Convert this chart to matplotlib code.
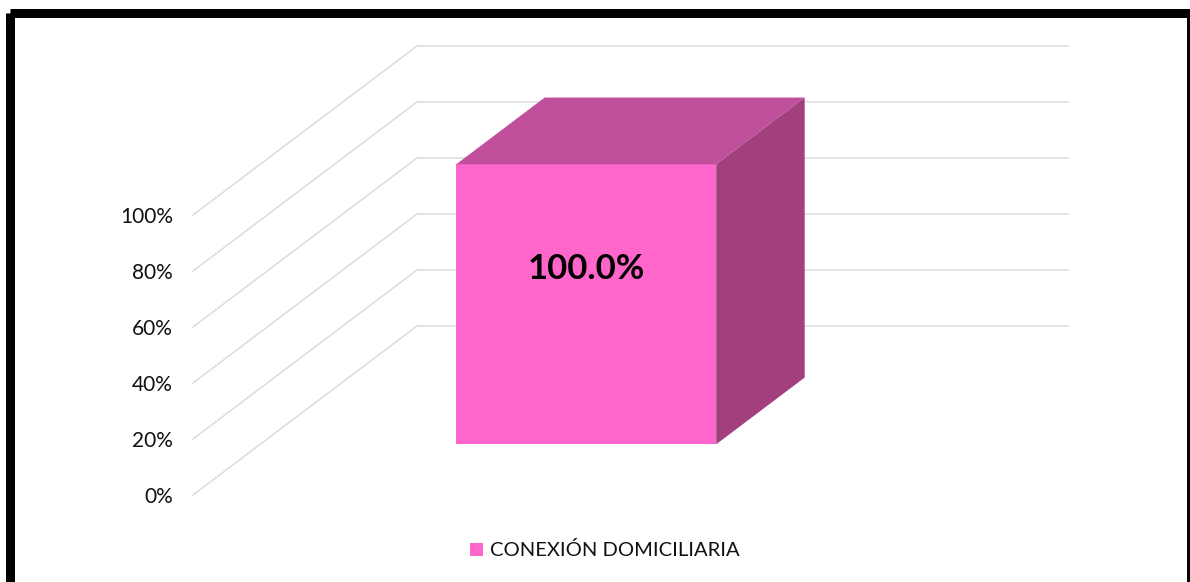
import matplotlib
matplotlib.use("Agg")
import matplotlib.pyplot as plt
from matplotlib.patches import Polygon, Rectangle

# ---- data ----
categories = ["CONEXIÓN DOMICILIARIA"]
values = [100.0]
value_labels = ["100.0%"]
ticks = [0, 20, 40, 60, 80, 100]
tick_labels = ["0%", "20%", "40%", "60%", "80%", "100%"]

# ---- colours ----
FRONT = "#FF66CC"
TOP = "#C0509C"
SIDE = "#A2407E"
GRID = "#D9D9D9"

W, H, DPI = 1190, 582, 100
fig = plt.figure(figsize=(W / DPI, H / DPI), dpi=DPI)
ax = fig.add_axes([0, 0, 1, 1])
ax.set_xlim(0, W)
ax.set_ylim(H, 0)
ax.axis("off")

# ---- 3D projection (layout) ----
X0, Y0 = 193.0, 495.0      # front-left origin of value 0
PX_PER_UNIT = 2.8          # px per percent
DEPTH_DX, DEPTH_DY = 224.0, -169.0
WALL_W = 651.0             # back wall width


def proj(x, v, d):
    """x: horizontal offset in front plane, v: value, d: depth 0..1"""
    return (X0 + x + d * DEPTH_DX, Y0 - v * PX_PER_UNIT + d * DEPTH_DY)


# gridlines: side wall diagonals + back wall horizontals
for t in ticks:
    p0 = proj(0, t, 0)
    p1 = proj(0, t, 1)
    p2 = proj(WALL_W, t, 1)
    ax.plot([p0[0], p1[0], p2[0]], [p0[1], p1[1], p2[1]], color=GRID, lw=1.0, zorder=1,
            solid_joinstyle="miter")

for t, lab in zip(ticks, tick_labels):
    px, py = proj(0, t, 0)
    ax.text(px - 20, py + 2, lab, ha="right", va="center", fontsize=15,
            family="Lato", color="#111111")

# bars
BAR_X0, BAR_W = 196.0, 260.0
D0, D1 = 0.30, 0.695
for i, (v, lab) in enumerate(zip(values, value_labels)):
    x0 = BAR_X0 + i * 300
    x1 = x0 + BAR_W
    fbl = proj(x0, 0, D0); fbr = proj(x1, 0, D0)
    ftl = proj(x0, v, D0); ftr = proj(x1, v, D0)
    btl = proj(x0, v, D1); btr = proj(x1, v, D1)
    bbr = proj(x1, 0, D1)
    ax.add_patch(Polygon([fbl, fbr, ftr, ftl], closed=True, fc=FRONT, ec="none", zorder=3))
    ax.add_patch(Polygon([ftl, ftr, btr, btl], closed=True, fc=TOP, ec="none", zorder=3))
    ax.add_patch(Polygon([fbr, bbr, btr, ftr], closed=True, fc=SIDE, ec="none", zorder=3))
    cx = (fbl[0] + fbr[0]) / 2
    cy = proj(0, v * 0.625, D0)[1]
    ax.text(cx, cy, lab, ha="center", va="center", fontsize=25, fontweight="bold",
            family="Lato", color="black", zorder=4)

# legend
ax.add_patch(Rectangle((470, 543), 13, 13, fc=FRONT, ec="none"))
ax.text(490, 550, categories[0], ha="left", va="center", fontsize=14.5,
        family="Lato", color="#111111")

# outer frame
ax.add_patch(Rectangle((9.5, 13), 1181, 600, fill=False, ec="black", lw=9 * 72 / DPI,
                       zorder=10, clip_on=False))

fig.savefig("out.png", dpi=DPI)
